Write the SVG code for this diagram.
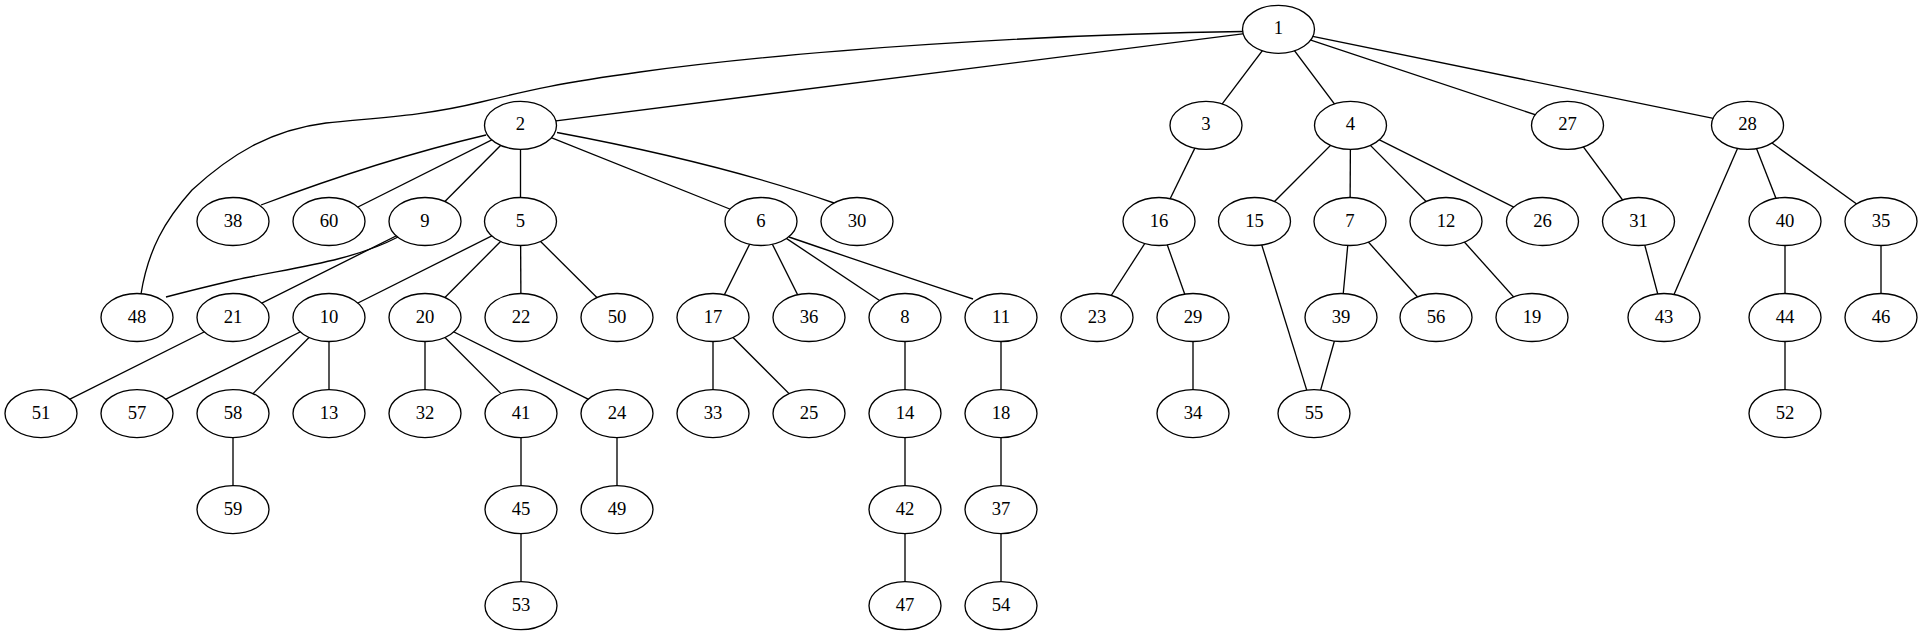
<svg xmlns="http://www.w3.org/2000/svg" width="1923" height="635" viewBox="0 0 1923 635">
<style>
.n ellipse{fill:#fff;stroke:#000;stroke-width:1.33}
.n text{font-family:"Liberation Serif","Times New Roman",serif;font-size:18.67px;text-anchor:middle;fill:#000}
#edges line,#edges path{stroke:#000;stroke-width:1.33;fill:none}
</style>
<rect width="1923" height="635" fill="#fff"/>
<g id="edges">
<path d="M1243,31.5 C1050,34 800,50 640,72 C560,83 530,90 481,102 C420,117 370,118 326,123 C270,130 230,155 192,190 C165,220 148,250 141,294"/>
<line x1="1278.5" y1="29.3" x2="520.5" y2="125.4"/>
<line x1="1278.5" y1="29.3" x2="1206" y2="125.4"/>
<line x1="1278.5" y1="29.3" x2="1350.5" y2="125.4"/>
<line x1="1278.5" y1="29.3" x2="1567.5" y2="125.4"/>
<line x1="1278.5" y1="29.3" x2="1747.5" y2="125.4"/>
<path d="M486,135 Q380,160 261,205"/>
<line x1="520.5" y1="125.4" x2="329" y2="221.5"/>
<line x1="520.5" y1="125.4" x2="425" y2="221.5"/>
<line x1="520.5" y1="125.4" x2="520.5" y2="221.5"/>
<line x1="520.5" y1="125.4" x2="761" y2="221.5"/>
<path d="M557,132.5 Q720,163 834,203"/>
<line x1="1206" y1="125.4" x2="1159" y2="221.5"/>
<line x1="1350.5" y1="125.4" x2="1254.5" y2="221.5"/>
<line x1="1350.5" y1="125.4" x2="1350" y2="221.5"/>
<line x1="1350.5" y1="125.4" x2="1446" y2="221.5"/>
<line x1="1350.5" y1="125.4" x2="1542.5" y2="221.5"/>
<line x1="1567.5" y1="125.4" x2="1638.5" y2="221.5"/>
<line x1="1747.5" y1="125.4" x2="1664" y2="317.5"/>
<line x1="1747.5" y1="125.4" x2="1785" y2="221.5"/>
<line x1="1747.5" y1="125.4" x2="1881" y2="221.5"/>
<path d="M398,237 C350,262 290,268 235,280 C205,287 185,292 166,297"/>
<line x1="425" y1="221.5" x2="233" y2="317.5"/>
<line x1="520.5" y1="221.5" x2="329" y2="317.5"/>
<line x1="520.5" y1="221.5" x2="425" y2="317.5"/>
<line x1="520.5" y1="221.5" x2="521" y2="317.5"/>
<line x1="520.5" y1="221.5" x2="617" y2="317.5"/>
<line x1="761" y1="221.5" x2="713" y2="317.5"/>
<line x1="761" y1="221.5" x2="809" y2="317.5"/>
<line x1="761" y1="221.5" x2="905" y2="317.5"/>
<path d="M789,237 Q900,275 973,299"/>
<line x1="1159" y1="221.5" x2="1097" y2="317.5"/>
<line x1="1159" y1="221.5" x2="1193" y2="317.5"/>
<line x1="1254.5" y1="221.5" x2="1314" y2="413.6"/>
<line x1="1350" y1="221.5" x2="1341" y2="317.5"/>
<line x1="1350" y1="221.5" x2="1436" y2="317.5"/>
<line x1="1446" y1="221.5" x2="1532" y2="317.5"/>
<line x1="1638.5" y1="221.5" x2="1664" y2="317.5"/>
<line x1="1785" y1="221.5" x2="1785" y2="317.5"/>
<line x1="1881" y1="221.5" x2="1881" y2="317.5"/>
<line x1="233" y1="317.5" x2="41" y2="413.6"/>
<line x1="329" y1="317.5" x2="137" y2="413.6"/>
<line x1="329" y1="317.5" x2="233" y2="413.6"/>
<line x1="329" y1="317.5" x2="329" y2="413.6"/>
<line x1="425" y1="317.5" x2="425" y2="413.6"/>
<line x1="425" y1="317.5" x2="521" y2="413.6"/>
<line x1="425" y1="317.5" x2="617" y2="413.6"/>
<line x1="713" y1="317.5" x2="713" y2="413.6"/>
<line x1="713" y1="317.5" x2="809" y2="413.6"/>
<line x1="905" y1="317.5" x2="905" y2="413.6"/>
<line x1="1001" y1="317.5" x2="1001" y2="413.6"/>
<line x1="1193" y1="317.5" x2="1193" y2="413.6"/>
<line x1="1341" y1="317.5" x2="1314" y2="413.6"/>
<line x1="1785" y1="317.5" x2="1785" y2="413.6"/>
<line x1="233" y1="413.6" x2="233" y2="509.6"/>
<line x1="521" y1="413.6" x2="521" y2="509.6"/>
<line x1="617" y1="413.6" x2="617" y2="509.6"/>
<line x1="905" y1="413.6" x2="905" y2="509.6"/>
<line x1="1001" y1="413.6" x2="1001" y2="509.6"/>
<line x1="521" y1="509.6" x2="521" y2="605.7"/>
<line x1="905" y1="509.6" x2="905" y2="605.7"/>
<line x1="1001" y1="509.6" x2="1001" y2="605.7"/>
</g>
<g id="n1" class="n"><ellipse cx="1278.5" cy="29.3" rx="36" ry="24"/><text x="1278.5" y="34.3">1</text></g>
<g id="n2" class="n"><ellipse cx="520.5" cy="125.4" rx="36" ry="24"/><text x="520.5" y="130.4">2</text></g>
<g id="n3" class="n"><ellipse cx="1206" cy="125.4" rx="36" ry="24"/><text x="1206" y="130.4">3</text></g>
<g id="n4" class="n"><ellipse cx="1350.5" cy="125.4" rx="36" ry="24"/><text x="1350.5" y="130.4">4</text></g>
<g id="n27" class="n"><ellipse cx="1567.5" cy="125.4" rx="36" ry="24"/><text x="1567.5" y="130.4">27</text></g>
<g id="n28" class="n"><ellipse cx="1747.5" cy="125.4" rx="36" ry="24"/><text x="1747.5" y="130.4">28</text></g>
<g id="n38" class="n"><ellipse cx="233" cy="221.5" rx="36" ry="24"/><text x="233" y="226.5">38</text></g>
<g id="n60" class="n"><ellipse cx="329" cy="221.5" rx="36" ry="24"/><text x="329" y="226.5">60</text></g>
<g id="n9" class="n"><ellipse cx="425" cy="221.5" rx="36" ry="24"/><text x="425" y="226.5">9</text></g>
<g id="n5" class="n"><ellipse cx="520.5" cy="221.5" rx="36" ry="24"/><text x="520.5" y="226.5">5</text></g>
<g id="n6" class="n"><ellipse cx="761" cy="221.5" rx="36" ry="24"/><text x="761" y="226.5">6</text></g>
<g id="n30" class="n"><ellipse cx="857" cy="221.5" rx="36" ry="24"/><text x="857" y="226.5">30</text></g>
<g id="n16" class="n"><ellipse cx="1159" cy="221.5" rx="36" ry="24"/><text x="1159" y="226.5">16</text></g>
<g id="n15" class="n"><ellipse cx="1254.5" cy="221.5" rx="36" ry="24"/><text x="1254.5" y="226.5">15</text></g>
<g id="n7" class="n"><ellipse cx="1350" cy="221.5" rx="36" ry="24"/><text x="1350" y="226.5">7</text></g>
<g id="n12" class="n"><ellipse cx="1446" cy="221.5" rx="36" ry="24"/><text x="1446" y="226.5">12</text></g>
<g id="n26" class="n"><ellipse cx="1542.5" cy="221.5" rx="36" ry="24"/><text x="1542.5" y="226.5">26</text></g>
<g id="n31" class="n"><ellipse cx="1638.5" cy="221.5" rx="36" ry="24"/><text x="1638.5" y="226.5">31</text></g>
<g id="n40" class="n"><ellipse cx="1785" cy="221.5" rx="36" ry="24"/><text x="1785" y="226.5">40</text></g>
<g id="n35" class="n"><ellipse cx="1881" cy="221.5" rx="36" ry="24"/><text x="1881" y="226.5">35</text></g>
<g id="n48" class="n"><ellipse cx="137" cy="317.5" rx="36" ry="24"/><text x="137" y="322.5">48</text></g>
<g id="n21" class="n"><ellipse cx="233" cy="317.5" rx="36" ry="24"/><text x="233" y="322.5">21</text></g>
<g id="n10" class="n"><ellipse cx="329" cy="317.5" rx="36" ry="24"/><text x="329" y="322.5">10</text></g>
<g id="n20" class="n"><ellipse cx="425" cy="317.5" rx="36" ry="24"/><text x="425" y="322.5">20</text></g>
<g id="n22" class="n"><ellipse cx="521" cy="317.5" rx="36" ry="24"/><text x="521" y="322.5">22</text></g>
<g id="n50" class="n"><ellipse cx="617" cy="317.5" rx="36" ry="24"/><text x="617" y="322.5">50</text></g>
<g id="n17" class="n"><ellipse cx="713" cy="317.5" rx="36" ry="24"/><text x="713" y="322.5">17</text></g>
<g id="n36" class="n"><ellipse cx="809" cy="317.5" rx="36" ry="24"/><text x="809" y="322.5">36</text></g>
<g id="n8" class="n"><ellipse cx="905" cy="317.5" rx="36" ry="24"/><text x="905" y="322.5">8</text></g>
<g id="n11" class="n"><ellipse cx="1001" cy="317.5" rx="36" ry="24"/><text x="1001" y="322.5">11</text></g>
<g id="n23" class="n"><ellipse cx="1097" cy="317.5" rx="36" ry="24"/><text x="1097" y="322.5">23</text></g>
<g id="n29" class="n"><ellipse cx="1193" cy="317.5" rx="36" ry="24"/><text x="1193" y="322.5">29</text></g>
<g id="n39" class="n"><ellipse cx="1341" cy="317.5" rx="36" ry="24"/><text x="1341" y="322.5">39</text></g>
<g id="n56" class="n"><ellipse cx="1436" cy="317.5" rx="36" ry="24"/><text x="1436" y="322.5">56</text></g>
<g id="n19" class="n"><ellipse cx="1532" cy="317.5" rx="36" ry="24"/><text x="1532" y="322.5">19</text></g>
<g id="n43" class="n"><ellipse cx="1664" cy="317.5" rx="36" ry="24"/><text x="1664" y="322.5">43</text></g>
<g id="n44" class="n"><ellipse cx="1785" cy="317.5" rx="36" ry="24"/><text x="1785" y="322.5">44</text></g>
<g id="n46" class="n"><ellipse cx="1881" cy="317.5" rx="36" ry="24"/><text x="1881" y="322.5">46</text></g>
<g id="n51" class="n"><ellipse cx="41" cy="413.6" rx="36" ry="24"/><text x="41" y="418.6">51</text></g>
<g id="n57" class="n"><ellipse cx="137" cy="413.6" rx="36" ry="24"/><text x="137" y="418.6">57</text></g>
<g id="n58" class="n"><ellipse cx="233" cy="413.6" rx="36" ry="24"/><text x="233" y="418.6">58</text></g>
<g id="n13" class="n"><ellipse cx="329" cy="413.6" rx="36" ry="24"/><text x="329" y="418.6">13</text></g>
<g id="n32" class="n"><ellipse cx="425" cy="413.6" rx="36" ry="24"/><text x="425" y="418.6">32</text></g>
<g id="n41" class="n"><ellipse cx="521" cy="413.6" rx="36" ry="24"/><text x="521" y="418.6">41</text></g>
<g id="n24" class="n"><ellipse cx="617" cy="413.6" rx="36" ry="24"/><text x="617" y="418.6">24</text></g>
<g id="n33" class="n"><ellipse cx="713" cy="413.6" rx="36" ry="24"/><text x="713" y="418.6">33</text></g>
<g id="n25" class="n"><ellipse cx="809" cy="413.6" rx="36" ry="24"/><text x="809" y="418.6">25</text></g>
<g id="n14" class="n"><ellipse cx="905" cy="413.6" rx="36" ry="24"/><text x="905" y="418.6">14</text></g>
<g id="n18" class="n"><ellipse cx="1001" cy="413.6" rx="36" ry="24"/><text x="1001" y="418.6">18</text></g>
<g id="n34" class="n"><ellipse cx="1193" cy="413.6" rx="36" ry="24"/><text x="1193" y="418.6">34</text></g>
<g id="n55" class="n"><ellipse cx="1314" cy="413.6" rx="36" ry="24"/><text x="1314" y="418.6">55</text></g>
<g id="n52" class="n"><ellipse cx="1785" cy="413.6" rx="36" ry="24"/><text x="1785" y="418.6">52</text></g>
<g id="n59" class="n"><ellipse cx="233" cy="509.6" rx="36" ry="24"/><text x="233" y="514.6">59</text></g>
<g id="n45" class="n"><ellipse cx="521" cy="509.6" rx="36" ry="24"/><text x="521" y="514.6">45</text></g>
<g id="n49" class="n"><ellipse cx="617" cy="509.6" rx="36" ry="24"/><text x="617" y="514.6">49</text></g>
<g id="n42" class="n"><ellipse cx="905" cy="509.6" rx="36" ry="24"/><text x="905" y="514.6">42</text></g>
<g id="n37" class="n"><ellipse cx="1001" cy="509.6" rx="36" ry="24"/><text x="1001" y="514.6">37</text></g>
<g id="n53" class="n"><ellipse cx="521" cy="605.7" rx="36" ry="24"/><text x="521" y="610.7">53</text></g>
<g id="n47" class="n"><ellipse cx="905" cy="605.7" rx="36" ry="24"/><text x="905" y="610.7">47</text></g>
<g id="n54" class="n"><ellipse cx="1001" cy="605.7" rx="36" ry="24"/><text x="1001" y="610.7">54</text></g>
</svg>
